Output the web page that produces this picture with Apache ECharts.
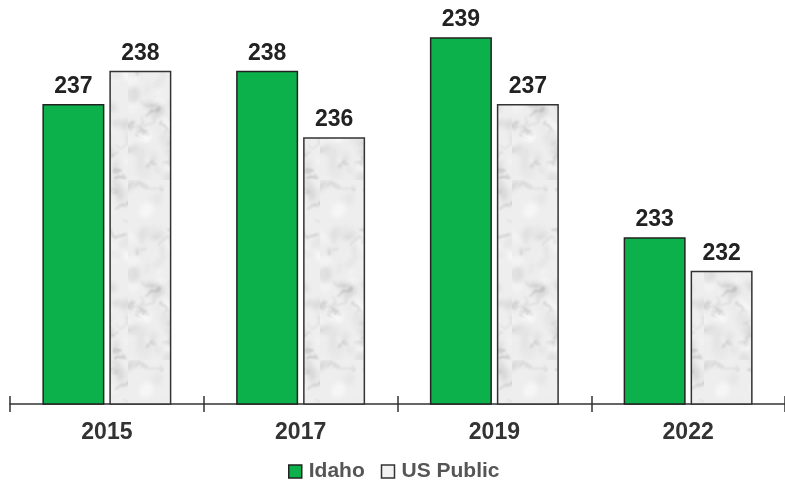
<!DOCTYPE html>
<html>
<head>
<meta charset="utf-8">
<script src="https://cdn.jsdelivr.net/npm/echarts@6/dist/echarts.min.js"></script>
<style>
  html, body { margin: 0; padding: 0; background: #fff; }
  #chart { width: 785px; height: 486px; }
</style>
</head>
<body>
<div id="chart"></div>
<script>
var years = ['2015', '2017', '2019', '2022'];
var idaho = [237, 238, 239, 233];
var usPublic = [238, 236, 237, 232];

// soft marble texture for the US Public bars (style only)
function marblePattern() {
    var c = document.createElement('canvas');
    c.width = 64;
    c.height = 180;
    var ctx = c.getContext('2d');
    ctx.fillStyle = '#eeeeee';
    ctx.fillRect(0, 0, 64, 180);
    var seed = 11;
    function rnd() {
        seed = (seed * 16807) % 2147483647;
        return seed / 2147483647;
    }
    ctx.filter = 'blur(2px)';
    for (var i = 0; i < 70; i++) {
        var g = Math.round(200 + rnd() * 55);
        ctx.fillStyle = 'rgba(' + g + ',' + g + ',' + g + ',0.6)';
        ctx.beginPath();
        ctx.ellipse(rnd() * 64, rnd() * 180, 3 + rnd() * 7, 2 + rnd() * 5, rnd() * 3, 0, Math.PI * 2);
        ctx.fill();
    }
    ctx.filter = 'blur(0.8px)';
    for (var j = 0; j < 26; j++) {
        ctx.strokeStyle = 'rgba(120,120,120,' + (0.15 + rnd() * 0.3) + ')';
        ctx.lineWidth = 0.6 + rnd() * 1.0;
        ctx.beginPath();
        var x = rnd() * 64, y = rnd() * 180;
        ctx.moveTo(x, y);
        for (var k = 0; k < 3; k++) {
            var cx = x + (rnd() - 0.5) * 14, cy = y + (rnd() - 0.5) * 10;
            x += (rnd() - 0.5) * 20;
            y += (rnd() - 0.5) * 14;
            ctx.quadraticCurveTo(cx, cy, x, y);
        }
        ctx.stroke();
    }
    return c;
}

var chart = echarts.init(document.getElementById('chart'), null, { renderer: 'canvas' });

var labelStyle = {
    show: true,
    position: 'top',
    distance: 6,
    color: '#222',
    fontSize: 23,
    fontWeight: 'bold',
    fontFamily: 'Liberation Sans, Arial, sans-serif'
};

var tickStyle = { color: '#333', width: 1.5 };

var option = {
    animation: false,
    textStyle: { fontFamily: 'Liberation Sans, Arial, sans-serif' },
    legend: {
        top: 456,
        left: 283,
        itemWidth: 13,
        itemHeight: 13,
        itemGap: 16,
        textStyle: { fontSize: 21, fontWeight: 'bold', color: '#555', padding: [0, 0, 0, 2] },
        data: [
            { name: 'Idaho', icon: 'rect', itemStyle: { color: '#0db14b', borderColor: '#222', borderWidth: 1.5 } },
            { name: 'US Public', icon: 'rect', itemStyle: { color: '#f2f2f2', borderColor: '#333', borderWidth: 1.5 } }
        ]
    },
    grid: { left: 10, right: -1, top: 4, bottom: 82 },
    xAxis: [
        {
            type: 'category',
            data: years,
            axisLine: { lineStyle: { color: '#333', width: 1.5 } },
            axisTick: { show: true, length: 8, lineStyle: tickStyle },
            axisLabel: { color: '#333', fontSize: 23, fontWeight: 'bold', margin: 17 }
        },
        {
            type: 'category',
            data: years,
            position: 'bottom',
            axisLine: { show: false },
            axisTick: { show: true, inside: true, length: 8, lineStyle: tickStyle },
            axisLabel: { show: false }
        }
    ],
    yAxis: {
        type: 'value',
        min: 228,
        max: 240,
        show: false,
        splitLine: { show: false }
    },
    series: [
        {
            name: 'Idaho',
            type: 'bar',
            data: idaho,
            barWidth: 62,
            barGap: '8%',
            itemStyle: { color: '#0db14b', borderColor: '#222', borderWidth: 1.5 },
            label: labelStyle
        },
        {
            name: 'US Public',
            type: 'bar',
            data: usPublic,
            barWidth: 62,
            itemStyle: {
                color: { image: marblePattern(), repeat: 'repeat' },
                borderColor: '#333',
                borderWidth: 1.5
            },
            label: labelStyle
        }
    ]
};

chart.setOption(option);
</script>
</body>
</html>
